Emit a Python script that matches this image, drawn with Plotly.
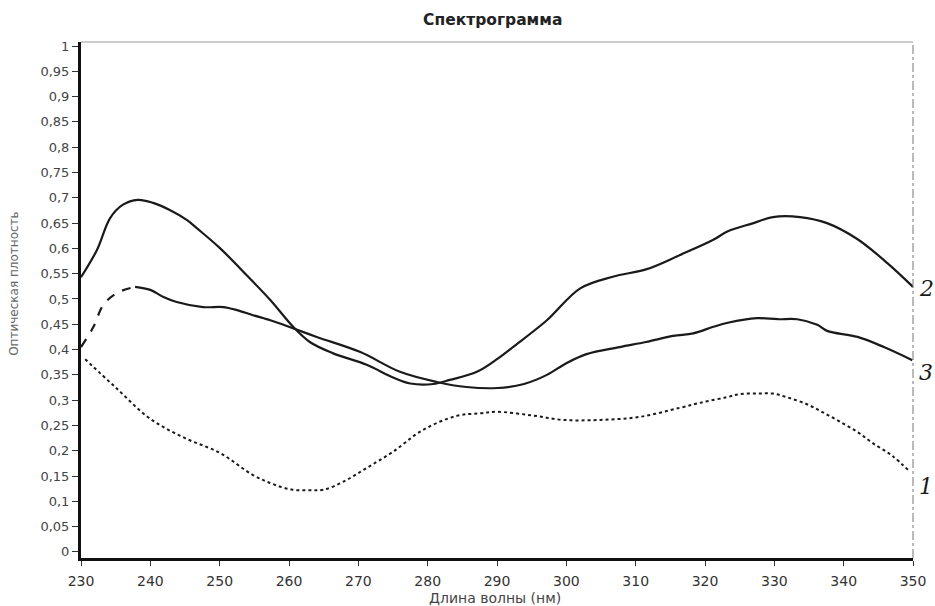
import plotly.graph_objects as go

# Curve 1 (dotted)
x1 = [230.6, 235, 240, 245, 250, 254.8, 257.7, 260.5, 263, 265, 268, 271.2, 275, 279.3, 284.2, 287.5,
      290, 295, 299.5, 304.9, 310.6, 316.4, 320, 323.2, 325, 327.5, 329.8, 332, 334.7, 337, 339.5,
      342, 344.2, 347, 349.6]
y1 = [0.381, 0.325, 0.263, 0.225, 0.196, 0.152, 0.134, 0.123, 0.122, 0.123, 0.14, 0.166, 0.198, 0.241,
      0.269, 0.274, 0.277, 0.27, 0.261, 0.261, 0.267, 0.285, 0.297, 0.306, 0.312, 0.313, 0.313, 0.305,
      0.292, 0.276, 0.257, 0.237, 0.215, 0.19, 0.158]

# Curve 2 (solid)
x2 = [230, 232.3, 234.2, 236, 238.2, 240.4, 242.8, 245.3, 246.7, 250, 253.9, 257.3, 260.6, 263,
      266.3, 271.2, 275, 277.5, 280.8, 283.2, 287.1, 290.1, 292.3, 297.2, 302, 306.7, 311.6, 316.4,
      321.2, 323.3, 327, 329.8, 333.7, 337.6, 341.9, 346.3, 350]
y2 = [0.543, 0.597, 0.66, 0.686, 0.696, 0.69, 0.676, 0.656, 0.64, 0.601, 0.547, 0.498, 0.445, 0.415,
      0.393, 0.37, 0.345, 0.333, 0.332, 0.34, 0.356, 0.382, 0.405, 0.458, 0.521, 0.544, 0.559, 0.587,
      0.617, 0.634, 0.65, 0.662, 0.662, 0.65, 0.619, 0.571, 0.524]

# Curve 3: dashed start, then solid
x3a = [230, 231.8, 233.2, 235.2, 237.8]
y3a = [0.405, 0.445, 0.488, 0.512, 0.524]
x3b = [237.8, 240, 241.9, 243.8, 247.6, 250.5, 252.5, 254.8, 257.3, 259.2, 264, 270.3, 276, 281.3,
       285.6, 290.1, 293.9, 297.2, 300, 302.9, 307.7, 311.5, 315.4, 318.3, 321.2, 323.3, 327.5, 330.5,
       333.3, 336.2, 337.6, 342, 345.8, 349.9]
y3b = [0.524, 0.518, 0.504, 0.494, 0.484, 0.484, 0.478, 0.468, 0.458, 0.449, 0.425, 0.395, 0.356,
       0.336, 0.326, 0.324, 0.332, 0.35, 0.373, 0.391, 0.405, 0.415, 0.427, 0.432, 0.445, 0.453, 0.462,
       0.46, 0.46, 0.449, 0.437, 0.425, 0.405, 0.379]

y_ticks = [i / 20 for i in range(21)]
y_labels = ["0", "0,05", "0,1", "0,15", "0,2", "0,25", "0,3", "0,35", "0,4", "0,45", "0,5", "0,55",
            "0,6", "0,65", "0,7", "0,75", "0,8", "0,85", "0,9", "0,95", "1"]
x_ticks = list(range(230, 351, 10))
curve_labels = ["1", "2", "3"]
label_y = [0.13, 0.52, 0.355]

fig = go.Figure()
fig.add_trace(go.Scatter(x=x1, y=y1, mode="lines", line=dict(color="#1a1a1a", width=2, dash="dot"),
                         line_shape="spline", showlegend=False))
fig.add_trace(go.Scatter(x=x2, y=y2, mode="lines", line=dict(color="#1a1a1a", width=2.2),
                         line_shape="spline", showlegend=False))
fig.add_trace(go.Scatter(x=x3a, y=y3a, mode="lines", line=dict(color="#1a1a1a", width=2.2, dash="dash"),
                         line_shape="spline", showlegend=False))
fig.add_trace(go.Scatter(x=x3b, y=y3b, mode="lines", line=dict(color="#1a1a1a", width=2.2),
                         line_shape="spline", showlegend=False))

for t, yy in zip(curve_labels, label_y):
    fig.add_annotation(x=1.0, xref="paper", y=yy, yref="y", text=t, showarrow=False,
                       xanchor="left", xshift=4,
                       font=dict(family="DejaVu Serif", size=22, color="#1a1a1a", style="italic"))

# axis titles as annotations for exact placement
fig.add_annotation(x=-0.0805, xref="paper", y=0.53, yref="y", text="Оптическая плотность",
                   textangle=-90, showarrow=False, xanchor="center", yanchor="middle",
                   font=dict(family="DejaVu Sans", size=12, color="#666666"))
fig.add_annotation(x=0.4976, xref="paper", y=-0.0775, yref="paper", text="Длина волны (нм)",
                   showarrow=False, xanchor="center", yanchor="middle",
                   font=dict(family="DejaVu Sans", size=14, color="#444444"))

# top border and right dash-dot border
fig.add_shape(type="line", xref="paper", yref="paper", x0=0, x1=1, y0=1, y1=1,
              line=dict(color="#999999", width=1))
fig.add_shape(type="line", xref="paper", yref="paper", x0=1, x1=1, y0=0, y1=1,
              line=dict(color="#777777", width=1, dash="dashdot"))

fig.update_layout(
    width=935, height=606,
    margin=dict(l=81, r=22, t=42, b=48, autoexpand=False),
    paper_bgcolor="white", plot_bgcolor="white",
    font=dict(family="DejaVu Sans, sans-serif", color="#333333", size=13),
    title=dict(text="<b>Спектрограмма</b>", x=0.527, xanchor="center", y=0.967, yanchor="middle",
               font=dict(family="DejaVu Sans", size=15.5, color="#222222")),
)
fig.update_xaxes(range=[230, 350], tickvals=x_ticks, ticks="outside", ticklen=5, tickcolor="#333",
                 showline=True, linecolor="#111111", linewidth=3, showgrid=False, zeroline=False,
                 automargin=False,
                 tickfont=dict(family="DejaVu Sans", size=14, color="#333333"), ticklabelstandoff=3)
fig.update_yaxes(range=[-0.012, 1.008], tickvals=y_ticks, ticktext=y_labels, ticks="outside", ticklen=6,
                 tickcolor="#333", showline=True, linecolor="#111111", linewidth=3, showgrid=False,
                 zeroline=False, automargin=False,
                 tickfont=dict(family="DejaVu Sans", size=13, color="#444444"))

fig.write_html("out.html")
